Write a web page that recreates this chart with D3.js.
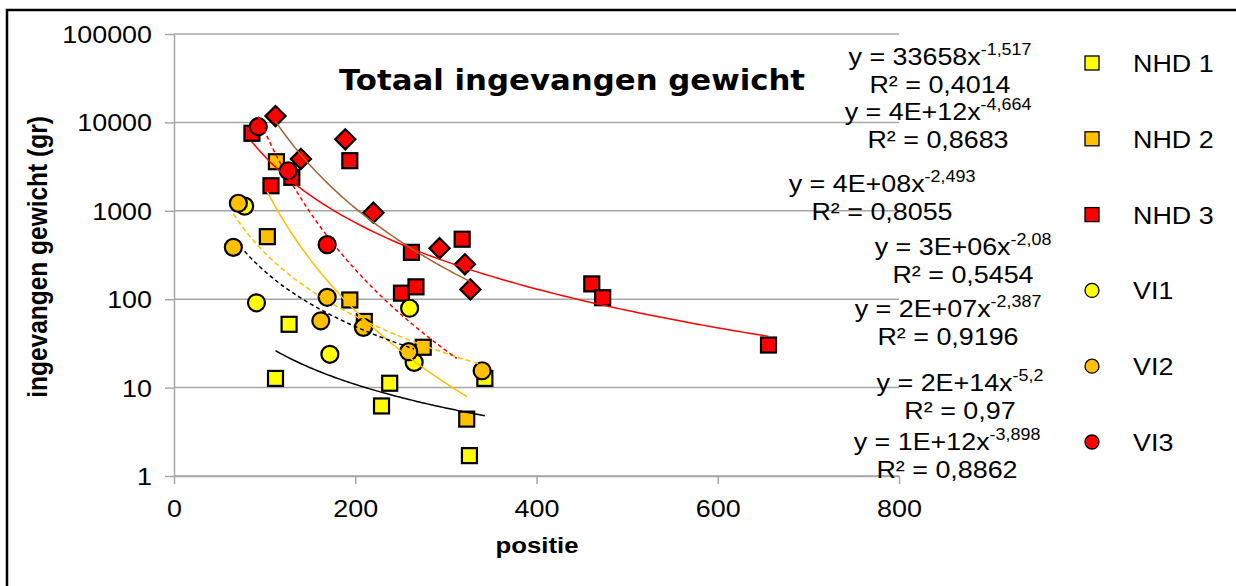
<!DOCTYPE html>
<html>
<head>
<script src="https://cdn.jsdelivr.net/npm/d3@7"></script>
<style>
html, body { margin: 0; background: #fff; }
svg { display: block; font-family: "Liberation Sans", Arial, sans-serif; }
</style>
</head>
<body>
<div id="chart"></div>
<script>

// series names (the 7th series has no legend entry)
var seriesNames = ["NHD 1", "NHD 2", "NHD 3", "VI1", "VI2", "VI3", "reeks 7"];

// positie / ingevangen gewicht (gr) per series
var nhd1Pos = [112, 127, 229, 238, 326, 343];
var nhd1Gew = [12.7, 52, 6.2, 11.2, 1.7, 12.7];
var nhd2Pos = [103, 113, 194, 210, 275, 323];
var nhd2Gew = [510, 3590, 98, 56, 28.6, 4.4];
var nhd3Pos = [86, 107, 130, 194, 251, 262, 267, 318, 461, 473, 656];
var nhd3Gew = [7530, 1920, 2390, 3690, 117, 339, 138, 477, 149, 104, 30.3];
var vi1Pos = [78, 91, 172, 260, 265];
var vi1Gew = [1130, 91, 23.8, 79, 19.3];
var vi2Pos = [65.5, 71, 162, 169, 209, 259, 340];
var vi2Gew = [386, 1217, 57, 105, 48, 25.5, 15.5];
var vi3Pos = [93, 126, 169];
var vi3Gew = [8940, 2840, 414];
var r7Pos = [112, 140, 189, 220, 293, 321, 327];
var r7Gew = [11800, 3860, 6440, 953, 377, 248, 129];

// power trendlines y = a * x^b, as shown in the labels
var trendCoef = [33658, 4e12, 4e8, 3e6, 2e7, 2e14, 1e12];
var trendExp = [-1.517, -4.664, -2.493, -2.08, -2.387, -5.2, -3.898];
var trendR2 = [0.4014, 0.8683, 0.8055, 0.5454, 0.9196, 0.97, 0.8862];
var trendEnd = [343, 323, 656, 265, 340, 312, 327];

var xTicks = [0, 200, 400, 600, 800];
var yTicks = [1, 10, 100, 1000, 10000, 100000];

// styles
var fills = ["#FFFF00", "#FFC000", "#FF0000", "#FFFF00", "#FFC000", "#FF0000", "#FF0000"];
var shapes = ["square", "square", "square", "circle", "circle", "circle", "diamond"];
var trendColors = ["#000", "#FFC000", "#FF0000", "#000", "#FFC000", "#FF0000", "#A5642F"];
var trendDash = [null, null, null, "4,3", "5,3", "4,3", null];
var eqX = [940, 938, 882, 963, 948, 960, 947];
var eqY = [65, 120, 192, 255, 317, 391, 450];

var pos = [nhd1Pos, nhd2Pos, nhd3Pos, vi1Pos, vi2Pos, vi3Pos, r7Pos];
var gew = [nhd1Gew, nhd2Gew, nhd3Gew, vi1Gew, vi2Gew, vi3Gew, r7Gew];

var W = 1236, H = 586, SX = 1.12;

var svg = d3.select("#chart").append("svg")
    .attr("width", W)
    .attr("height", H);

svg.append("rect")
    .attr("x", 7).attr("y", 10)
    .attr("width", W).attr("height", H)
    .attr("fill", "#fff")
    .attr("stroke", "#000")
    .attr("stroke-width", 2.5);

var x = d3.scaleLinear().domain([0, 800]).range([174, 899]);
var y = d3.scaleLog().domain([1, 100000]).range([476, 34]);

// gridlines
svg.append("g").selectAll("line")
    .data(yTicks)
  .enter().append("line")
    .attr("x1", x(0)).attr("x2", x(800))
    .attr("y1", y).attr("y2", y)
    .attr("stroke", "#a6a6a6")
    .attr("stroke-width", 1.5);

// axes
var yAxis = svg.append("g")
    .attr("transform", "translate(" + x(0) + ",0)")
    .call(d3.axisLeft(y).tickValues(yTicks).tickFormat(d3.format("d")).tickSize(9).tickSizeOuter(0));
var xAxis = svg.append("g")
    .attr("transform", "translate(0," + y(1) + ")")
    .call(d3.axisBottom(x).tickValues(xTicks).tickFormat(d3.format("d")).tickSize(8).tickSizeOuter(0));

[yAxis, xAxis].forEach(function(g) {
  g.selectAll("path, line").attr("stroke", "#a6a6a6").attr("stroke-width", 1.5);
  g.selectAll("text")
      .attr("fill", "#000")
      .attr("font-size", 24)
      .attr("font-family", "'Liberation Sans', Arial, sans-serif")
      .attr("x", 0).attr("y", 0).attr("dy", null);
});
yAxis.selectAll("text")
    .attr("text-anchor", "end")
    .attr("transform", "translate(-22,8.5) scale(" + SX + ",1)");
xAxis.selectAll("text")
    .attr("text-anchor", "middle")
    .attr("transform", "translate(0,41) scale(" + SX + ",1)");

// markers
function drawMarker(g, shape, fill, size, sw) {
  if (shape == "circle") {
    g.append("circle").attr("r", size / 2);
  } else if (shape == "square") {
    g.append("rect").attr("x", -size / 2).attr("y", -size / 2).attr("width", size).attr("height", size);
  } else {
    var s = size * 0.95;
    g.append("rect").attr("x", -s / 2).attr("y", -s / 2).attr("width", s).attr("height", s)
        .attr("transform", "rotate(45)");
  }
  g.selectAll("*").attr("fill", fill).attr("stroke", "#000").attr("stroke-width", sw);
}

var order = [6, 0, 1, 2, 3, 4, 5];
order.forEach(function(i) {
  var pts = pos[i].map(function(p, j) { return [p, gew[i][j]]; });
  svg.append("g").selectAll("g")
      .data(pts)
    .enter().append("g")
      .attr("transform", function(d) { return "translate(" + x(d[0]) + "," + y(d[1]) + ")"; })
      .each(function() {
        drawMarker(d3.select(this), shapes[i], fills[i], shapes[i] == "circle" ? 17 : 15, 2.2);
      });
});

// trendlines
var line = d3.line()
    .x(function(d) { return x(d[0]); })
    .y(function(d) { return y(d[1]); });

pos.forEach(function(p, i) {
  var x0 = d3.min(p), x1 = trendEnd[i];
  var xs = d3.range(x0, x1, (x1 - x0) / 80).concat([x1]);
  var pts = xs.map(function(v) { return [v, trendCoef[i] * Math.pow(v, trendExp[i])]; });
  svg.append("path")
      .attr("d", line(pts))
      .attr("fill", "none")
      .attr("stroke", trendColors[i])
      .attr("stroke-width", 1.5)
      .attr("stroke-dasharray", trendDash[i]);
});

// title
svg.append("text")
    .attr("transform", "translate(572,90) scale(" + SX + ",1)")
    .attr("text-anchor", "middle")
    .attr("font-family", "'DejaVu Sans', sans-serif")
    .attr("font-weight", "bold")
    .attr("font-size", 27.5)
    .text("Totaal ingevangen gewicht");

// axis titles
svg.append("text")
    .attr("transform", "translate(537,553) scale(" + SX + ",1)")
    .attr("text-anchor", "middle")
    .attr("font-weight", "bold")
    .attr("font-size", 23)
    .text("positie");

svg.append("text")
    .attr("transform", "translate(47,257) scale(" + SX + ",1) rotate(-90)")
    .attr("text-anchor", "middle")
    .attr("font-weight", "bold")
    .attr("font-size", 24.5)
    .text("ingevangen gewicht (gr)");

// trendline labels
function fmtCoef(a) {
  if (a < 1e5) return String(a);
  return d3.format(".0e")(a).toUpperCase().replace(/E\+(\d)$/, "E+0$1");
}
function fmtDec(v) { return String(v).replace(".", ","); }

trendCoef.forEach(function(a, i) {
  var t = svg.append("text")
      .attr("transform", "translate(" + eqX[i] + "," + eqY[i] + ") scale(" + SX + ",1)")
      .attr("text-anchor", "middle")
      .attr("font-size", 24);
  t.append("tspan").text("y = " + fmtCoef(a) + "x");
  t.append("tspan").attr("font-size", 16).attr("dy", -10).text(fmtDec(trendExp[i]));
  svg.append("text")
      .attr("transform", "translate(" + eqX[i] + "," + (eqY[i] + 28) + ") scale(" + SX + ",1)")
      .attr("text-anchor", "middle")
      .attr("font-size", 24)
      .text("R\u00b2 = " + fmtDec(trendR2[i]));
});

// legend (first six series)
var legend = svg.append("g").selectAll("g")
    .data(d3.range(6))
  .enter().append("g")
    .attr("transform", function(i) { return "translate(1092," + (63 + i * 75.8) + ")"; });

legend.each(function(i) {
  drawMarker(d3.select(this), shapes[i], fills[i], 14, 1.3);
});
legend.append("text")
    .attr("transform", "translate(41,9) scale(" + SX + ",1)")
    .attr("font-size", 24)
    .text(function(i) { return seriesNames[i]; });

</script>
</body>
</html>
